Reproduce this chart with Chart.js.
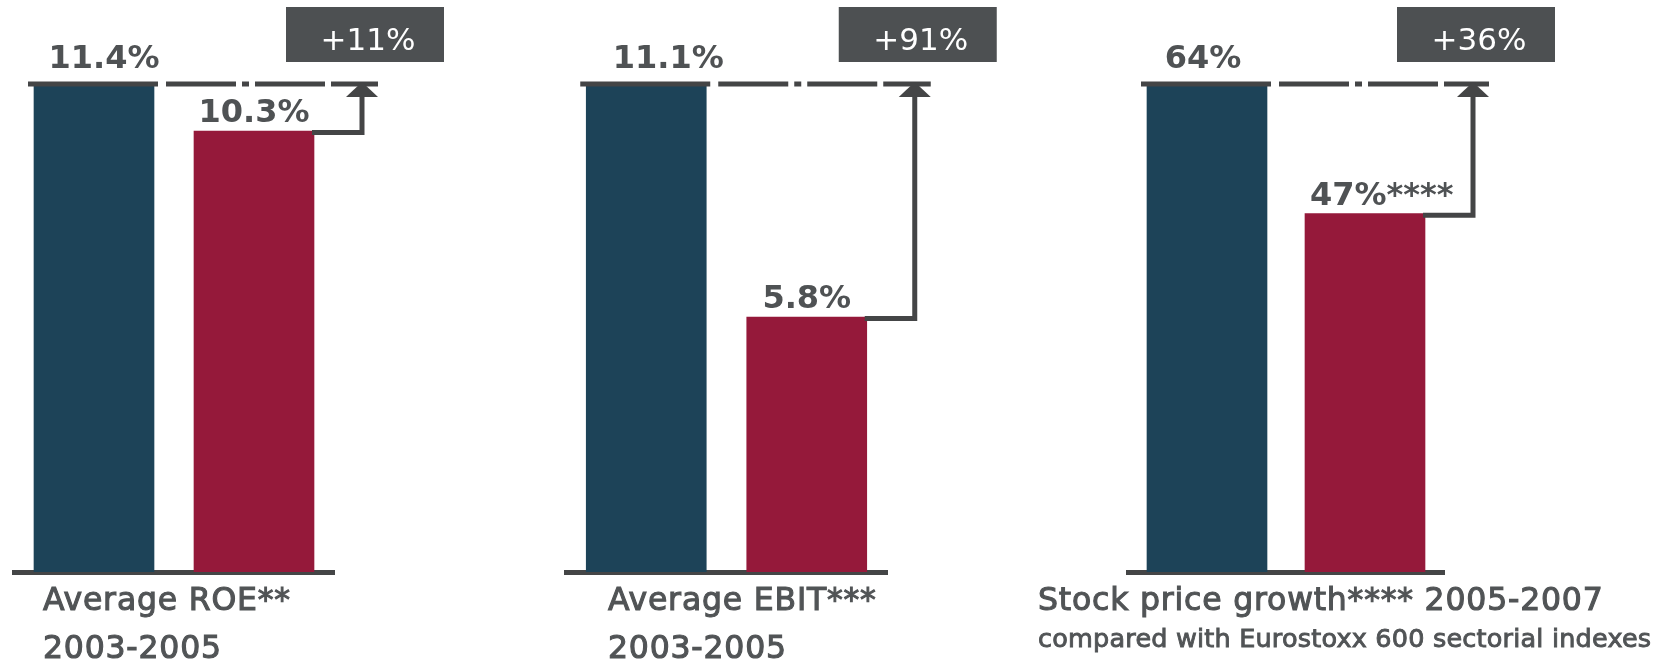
<!DOCTYPE html>
<html>
<head>
<meta charset="utf-8">
<script src="https://cdn.jsdelivr.net/npm/chart.js@4"></script>
<style>
    html, body { margin: 0; padding: 0; background: #fff; }
    #wrap { position: relative; width: 1662px; height: 664px; overflow: hidden; }
    .layer { position: absolute; left: 0; top: 0; width: 1662px; height: 664px; }
    .caption { position: absolute; top: 575px; font-family: "DejaVu Sans"; color: #515456; white-space: nowrap;
               -webkit-text-stroke: 1.1px #515456; }
    .caption .l1, .caption .l2 { font-size: 31.5px; line-height: 48px; letter-spacing: 0.8px; }
    .caption .small { font-size: 25.5px; line-height: 30px; letter-spacing: 0.2px; -webkit-text-stroke: 0.9px #515456; }
</style>
</head>
<body>
<div id="wrap"></div>
<script>
// Data
const categories = ['Peers', 'Company'];
const peerValues = [11.4, 11.1, 64];
const companyValues = [10.3, 5.8, 47];
const peerLabels = ['11.4%', '11.1%', '64%'];
const companyLabels = ['10.3%', '5.8%', '47%****'];
const changeLabels = ['+11%', '+91%', '+36%'];
const captionFirst = ['Average ROE**', 'Average EBIT***', 'Stock price growth**** 2005-2007'];
const captionSecond = ['2003-2005', '2003-2005', 'compared with Eurostoxx 600 sectorial indexes'];

// Layout of the three panels (page pixels)
const panelArea = [[14, 334], [566, 887], [1128, 1444]];
const captionLeft = [43, 608, 1038];
const peerLabelShift = [10, 22, -4];
const AREA_TOP = 84;
const AREA_BOTTOM = 572;

const BLUE = '#1d4358';
const RED = '#95193a';
const LINE = '#444546';
const TEXT = '#4f5254';
const BOX = '#4d5052';

/**
 * Draws the dash-dot reference line, the arrow, the change box and the value labels.
 */
const gapMarker = {
    id: 'gapMarker',
    afterDatasetsDraw(chart, args, opts) {
        const ctx = chart.ctx;
        const bars = chart.getDatasetMeta(0).data;
        const peer = bars[0];
        const comp = bars[1];
        const topY = peer.y;
        const peerL = peer.x - peer.width / 2;
        const peerR = peer.x + peer.width / 2;
        const compR = comp.x + comp.width / 2;
        const arrowX = compR + 48;

        ctx.save();
        ctx.strokeStyle = LINE;
        ctx.fillStyle = LINE;
        ctx.lineWidth = 5;

        // reference line at the level of the first bar
        ctx.beginPath();
        ctx.moveTo(peerL - 6, topY);
        ctx.lineTo(peerR + 4, topY);
        ctx.stroke();
        ctx.setLineDash([70, 6, 7, 6, 70, 6, 400]);
        ctx.beginPath();
        ctx.moveTo(peerR + 12, topY);
        ctx.lineTo(arrowX + 16, topY);
        ctx.stroke();
        ctx.setLineDash([]);

        // arrow from second bar up to the line
        ctx.lineJoin = 'miter';
        ctx.beginPath();
        ctx.moveTo(compR - 2, comp.y + 1.5);
        ctx.lineTo(arrowX, comp.y + 1.5);
        ctx.lineTo(arrowX, topY + 12);
        ctx.stroke();
        ctx.beginPath();
        ctx.moveTo(arrowX, topY - 2);
        ctx.lineTo(arrowX + 16, topY + 13);
        ctx.lineTo(arrowX - 16, topY + 13);
        ctx.closePath();
        ctx.fill();

        // change box
        ctx.fillStyle = BOX;
        ctx.fillRect(arrowX - 76, topY - 77, 158, 55);
        ctx.fillStyle = '#ffffff';
        ctx.font = '31px "DejaVu Sans"';
        ctx.textAlign = 'center';
        ctx.textBaseline = 'alphabetic';
        ctx.fillText(opts.change, arrowX + 6, topY - 34);

        // value labels
        ctx.fillStyle = TEXT;
        ctx.font = 'bold 32px "DejaVu Sans"';
        ctx.fillText(opts.peerLabel, peer.x + opts.peerShift, topY - 16);
        const m = opts.compLabel.match(/^(.*?%)(\**)$/);
        const suffixW = m && m[2] ? ctx.measureText(m[2]).width : 0;
        ctx.fillText(opts.compLabel, comp.x + suffixW / 4, comp.y - 9);
        ctx.restore();
    }
};

function createPanel(i) {
    const wrap = document.getElementById('wrap');
    const layer = document.createElement('div');
    layer.className = 'layer';
    const canvas = document.createElement('canvas');
    layer.appendChild(canvas);
    wrap.appendChild(layer);

    new Chart(canvas.getContext('2d'), {
        type: 'bar',
        data: {
            labels: categories,
            datasets: [{
                data: [peerValues[i], companyValues[i]],
                backgroundColor: [BLUE, RED],
                borderWidth: 0,
                barThickness: 120
            }]
        },
        options: {
            responsive: true,
            maintainAspectRatio: false,
            animation: false,
            devicePixelRatio: 1,
            layout: {
                padding: {
                    left: panelArea[i][0],
                    right: 1662 - panelArea[i][1],
                    top: AREA_TOP,
                    bottom: 664 - AREA_BOTTOM
                }
            },
            scales: {
                x: {
                    grid: { display: false, drawTicks: false },
                    border: { display: true, color: LINE, width: 5 },
                    ticks: { display: false }
                },
                y: {
                    display: false,
                    min: 0,
                    max: peerValues[i]
                }
            },
            plugins: {
                legend: { display: false },
                tooltip: { enabled: false },
                gapMarker: {
                    change: changeLabels[i],
                    peerLabel: peerLabels[i],
                    peerShift: peerLabelShift[i],
                    compLabel: companyLabels[i]
                }
            }
        },
        plugins: [gapMarker]
    });

    const cap = document.createElement('div');
    cap.className = 'caption';
    cap.style.left = captionLeft[i] + 'px';
    const l1 = document.createElement('div');
    l1.className = 'l1';
    l1.textContent = captionFirst[i];
    const l2 = document.createElement('div');
    l2.className = i === 2 ? 'small' : 'l2';
    l2.textContent = captionSecond[i];
    cap.appendChild(l1);
    cap.appendChild(l2);
    wrap.appendChild(cap);
}

for (let i = 0; i < 3; i++) {
    createPanel(i);
}
</script>
</body>
</html>
